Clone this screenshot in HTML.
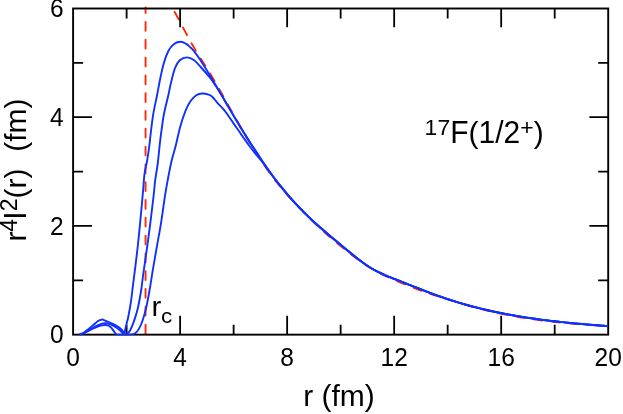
<!DOCTYPE html>
<html><head><meta charset="utf-8"><title>17F(1/2+)</title>
<style>html,body{margin:0;padding:0;background:#fff;}svg{display:block;}text{font-family:"Liberation Sans",sans-serif;fill:#000;}</style></head><body>
<svg width="623" height="414" viewBox="0 0 623 414">
<rect width="623" height="414" fill="#fff"/>
<defs><clipPath id="cp"><rect x="73.10" y="6.70" width="534.20" height="328.85"/></clipPath></defs>
<g fill="none" stroke="#ff2a05" stroke-width="1.90" clip-path="url(#cp)">
<path d="M145.55 4.2 V335.65" stroke-dasharray="8.8 9" stroke-linecap="round"/>
<path d="M172.09 7.54 L175.09 12.70 L178.09 18.17 L181.09 23.83 L184.09 29.57 L187.09 35.27 L190.09 40.81 L193.09 46.08 L196.09 51.11 L199.09 55.97 L202.09 60.72 L205.09 65.45 L208.09 70.23 L211.09 75.14 L214.09 80.19 L217.09 85.37 L220.09 90.65 L223.09 95.99 L226.09 101.38 L229.09 106.78 L232.09 112.16 L235.09 117.51 L238.09 122.79 L241.09 127.97 L244.09 133.08 L247.09 138.17 L250.09 143.17 L253.09 148.08 L256.09 152.88 L259.09 157.56 L262.09 162.10 L265.09 166.52 L268.09 170.79 L271.09 174.93 L274.09 178.92 L277.09 182.78 L280.09 186.49 L283.09 190.08 L286.09 193.55 L289.09 196.90 L292.09 200.14 L295.09 203.30 L298.09 206.38 L301.09 209.45 L304.09 212.60 L307.09 215.69 L310.09 218.72 L313.09 221.69 L316.09 224.58 L319.09 227.41 L322.09 230.18 L325.09 232.88 L328.09 235.52 L331.09 238.11 L334.09 240.64 L337.09 243.14 L340.09 245.59 L343.09 248.01 L346.09 250.42 L349.09 252.80 L352.09 255.15 L355.09 257.44 L358.09 259.67 L361.09 261.81 L364.09 263.85 L367.09 265.79 L370.09 267.62 L373.09 269.46 L376.09 271.19 L379.09 272.81 L382.09 274.33 L385.09 275.77 L388.09 277.15 L391.09 278.47 L394.09 279.76 L397.09 281.03 L400.09 282.30 L403.09 283.55 L406.09 284.79 L409.09 286.00 L412.09 287.19 L415.09 288.36 L418.09 289.49 L421.09 290.60 L424.09 291.68 L427.09 292.73 L430.09 293.75 L433.09 294.75 L436.09 295.72 L439.09 296.66 L442.09 297.58 L445.09 298.49 L448.09 299.38 L451.09 300.26 L454.09 301.21 L457.09 302.17 L460.09 303.10 L463.09 304.02 L466.09 304.91 L469.09 305.78 L472.09 306.63 L475.09 307.45 L478.09 308.25 L481.09 309.04 L484.09 309.79 L487.09 310.53 L490.09 311.25 L493.09 311.94 L496.09 312.61 L499.09 313.27 L502.09 313.90 L505.09 314.51 L508.09 315.09 L511.09 315.66 L514.09 316.21 L517.09 316.74 L520.09 317.25 L523.09 317.74 L526.09 318.22 L529.09 318.67 L532.09 319.11 L535.09 319.53 L538.09 319.93 L541.09 320.32 L544.09 320.69 L547.09 321.05 L550.09 321.39 L553.09 321.72 L556.09 322.04 L559.09 322.34 L562.09 322.63 L565.09 322.91 L568.09 323.18 L571.09 323.44 L574.09 323.69 L577.09 323.93 L580.09 324.17 L583.09 324.39 L586.09 324.62 L589.09 324.83 L592.09 325.05 L595.09 325.26 L598.09 325.46 L601.09 325.67 L604.09 325.88 L605.52 325.98" stroke-dasharray="8.6 9.2" stroke-linecap="round" stroke-dashoffset="12.80"/>
</g>
<path d="M126.61 334.65 v-10.00 M126.61 8.50 v10.00 M180.12 334.65 v-18.80 M180.12 8.50 v18.80 M233.63 334.65 v-10.00 M233.63 8.50 v10.00 M287.14 334.65 v-18.80 M287.14 8.50 v18.80 M340.65 334.65 v-10.00 M340.65 8.50 v10.00 M394.16 334.65 v-18.80 M394.16 8.50 v18.80 M447.67 334.65 v-10.00 M447.67 8.50 v10.00 M501.18 334.65 v-18.80 M501.18 8.50 v18.80 M554.69 334.65 v-10.00 M554.69 8.50 v10.00 M73.10 280.29 h10.00 M608.20 280.29 h-10.00 M73.10 225.93 h18.80 M608.20 225.93 h-18.80 M73.10 171.57 h10.00 M608.20 171.57 h-10.00 M73.10 117.22 h18.80 M608.20 117.22 h-18.80 M73.10 62.86 h10.00 M608.20 62.86 h-10.00" fill="none" stroke="#000" stroke-width="1.80"/>
<rect x="73.10" y="8.50" width="535.10" height="326.15" fill="none" stroke="#000" stroke-width="1.90"/>
<g fill="none" stroke="#1030ff" stroke-width="1.90" stroke-linejoin="round" stroke-linecap="round" clip-path="url(#cp)">
<path d="M79.90 334.30 C80.58 334.00 82.65 333.30 84.00 332.50 C85.35 331.70 86.53 330.65 88.00 329.50 C89.47 328.35 91.18 326.97 92.80 325.60 C94.42 324.23 96.40 322.24 97.70 321.30 C99.00 320.36 99.84 320.25 100.60 319.95 C101.36 319.65 101.70 319.48 102.25 319.50 C102.80 319.52 102.74 319.62 103.90 320.10 C105.06 320.58 107.10 321.45 109.20 322.40 C111.30 323.35 114.48 324.65 116.50 325.80 C118.52 326.95 120.18 328.30 121.30 329.30 C122.42 330.30 122.70 331.08 123.20 331.80 C123.70 332.52 124.02 333.73 124.30 333.60 C124.58 333.47 124.65 332.10 124.90 331.00 C125.15 329.90 125.45 328.50 125.80 327.00 C126.15 325.50 126.62 323.53 127.00 322.00 C127.38 320.47 127.47 321.03 128.10 317.80 C128.73 314.57 130.08 307.23 130.80 302.60 C131.52 297.97 131.22 299.60 132.40 290.00 C133.58 280.40 136.18 260.83 137.90 245.00 C139.62 229.17 141.60 206.85 142.70 195.00 C143.80 183.15 143.78 179.52 144.50 173.90 C145.22 168.28 146.20 165.95 147.00 161.30 C147.80 156.65 148.67 150.77 149.30 146.00 C149.93 141.23 150.13 138.07 150.80 132.70 C151.47 127.33 152.25 120.08 153.30 113.80 C154.35 107.52 156.03 100.43 157.10 95.00 C158.17 89.57 158.60 86.45 159.70 81.20 C160.80 75.95 162.23 68.58 163.70 63.50 C165.17 58.42 166.77 53.97 168.50 50.70 C170.23 47.43 172.08 45.38 174.10 43.90 C176.12 42.42 178.58 41.80 180.60 41.80 C182.62 41.80 184.57 42.97 186.20 43.90 C187.83 44.83 189.07 46.17 190.40 47.40 C191.73 48.63 192.77 49.53 194.20 51.30 C195.63 53.07 197.37 55.62 199.00 58.05 C200.63 60.47 202.25 63.05 204.00 65.84 C205.75 68.62 207.67 71.74 209.50 74.75 C211.33 77.77 213.08 80.70 215.00 83.93 C216.92 87.16 219.00 90.72 221.00 94.14 C223.00 97.55 225.00 101.00 227.00 104.41 C229.00 107.83 231.00 111.25 233.00 114.63 C235.00 118.00 237.00 121.36 239.00 124.66 C241.00 127.96 243.00 131.23 245.00 134.44 C247.00 137.65 249.00 140.82 251.00 143.93 C253.00 147.04 254.50 149.31 257.00 153.12 C259.50 156.93 263.17 162.69 266.00 166.79 C268.83 170.89 271.33 174.19 274.00 177.71 C276.67 181.23 279.33 184.63 282.00 187.91 C284.67 191.19 287.33 194.35 290.00 197.40 C292.67 200.45 295.33 203.38 298.00 206.21 C300.67 209.03 303.33 211.73 306.00 214.35 C308.67 216.98 311.33 219.48 314.00 221.93 C316.67 224.39 319.33 226.75 322.00 229.08 C324.67 231.41 327.33 233.67 330.00 235.92 C332.67 238.17 335.33 240.37 338.00 242.59 C340.67 244.81 343.33 247.02 346.00 249.23 C348.67 251.44 351.33 253.70 354.00 255.84 C356.67 257.99 359.33 260.14 362.00 262.09 C364.67 264.04 367.33 265.91 370.00 267.56 C372.67 269.21 375.33 270.63 378.00 271.97 C380.67 273.30 383.33 274.44 386.00 275.57 C388.67 276.70 391.33 277.71 394.00 278.76 C396.67 279.82 399.33 280.85 402.00 281.90 C404.67 282.95 407.33 284.01 410.00 285.07 C412.67 286.12 415.33 287.18 418.00 288.22 C420.67 289.26 423.33 290.30 426.00 291.31 C428.67 292.33 431.33 293.34 434.00 294.32 C436.67 295.30 439.33 296.26 442.00 297.19 C444.67 298.12 447.33 299.02 450.00 299.89 C452.67 300.76 455.33 301.60 458.00 302.41 C460.67 303.22 463.33 304.00 466.00 304.75 C468.67 305.50 471.33 306.22 474.00 306.92 C476.67 307.61 479.33 308.28 482.00 308.93 C484.67 309.57 487.33 310.19 490.00 310.79 C492.67 311.38 495.33 311.95 498.00 312.50 C500.67 313.05 503.33 313.58 506.00 314.08 C508.67 314.59 511.33 315.07 514.00 315.54 C516.67 316.00 519.33 316.45 522.00 316.88 C524.67 317.31 527.33 317.71 530.00 318.11 C532.67 318.50 535.33 318.88 538.00 319.24 C540.67 319.60 543.33 319.94 546.00 320.28 C548.67 320.61 551.33 320.93 554.00 321.23 C556.67 321.54 559.33 321.83 562.00 322.11 C564.67 322.40 567.33 322.67 570.00 322.93 C572.67 323.19 575.33 323.44 578.00 323.69 C580.67 323.93 583.33 324.17 586.00 324.40 C588.67 324.63 591.33 324.85 594.00 325.07 C596.67 325.29 599.63 325.52 602.00 325.71 C604.37 325.89 607.17 326.11 608.20 326.19"/>
<path d="M79.90 334.40 C80.58 334.17 82.65 333.60 84.00 333.00 C85.35 332.40 86.53 331.63 88.00 330.80 C89.47 329.97 91.18 328.90 92.80 328.00 C94.42 327.10 96.17 326.13 97.70 325.40 C99.23 324.67 100.78 323.98 102.00 323.60 C103.22 323.22 104.20 323.15 105.00 323.10 C105.80 323.05 105.68 323.02 106.80 323.30 C107.92 323.58 110.08 324.07 111.70 324.80 C113.32 325.53 115.05 326.72 116.50 327.70 C117.95 328.68 119.32 329.77 120.40 330.70 C121.48 331.63 122.30 332.68 123.00 333.30 C123.70 333.92 123.93 334.28 124.60 334.40 C125.27 334.52 126.07 334.70 127.00 334.00 C127.93 333.30 129.05 332.30 130.20 330.20 C131.35 328.10 132.65 324.97 133.90 321.40 C135.15 317.83 136.48 314.03 137.70 308.80 C138.92 303.57 140.27 295.82 141.20 290.00 C142.13 284.18 142.28 281.27 143.30 273.90 C144.32 266.53 146.15 254.13 147.30 245.80 C148.45 237.47 149.13 232.37 150.20 223.90 C151.27 215.43 152.87 202.28 153.70 195.00 C154.53 187.72 154.53 185.40 155.20 180.20 C155.87 175.00 156.97 169.53 157.70 163.80 C158.43 158.07 159.02 150.98 159.60 145.80 C160.18 140.62 160.47 138.03 161.20 132.70 C161.93 127.37 162.80 120.08 164.00 113.80 C165.20 107.52 167.30 99.90 168.40 95.00 C169.50 90.10 169.52 88.85 170.60 84.40 C171.68 79.95 173.37 72.32 174.90 68.30 C176.43 64.28 177.78 62.12 179.80 60.30 C181.82 58.48 184.60 57.40 187.00 57.40 C189.40 57.40 191.70 58.45 194.20 60.30 C196.70 62.15 199.40 65.63 202.00 68.50 C204.60 71.37 207.63 74.78 209.80 77.50 C211.97 80.22 213.13 82.03 215.00 84.80 C216.87 87.57 219.00 90.87 221.00 94.14 C223.00 97.41 225.00 101.00 227.00 104.41 C229.00 107.83 231.00 111.25 233.00 114.63 C235.00 118.00 237.00 121.36 239.00 124.66 C241.00 127.96 243.00 131.23 245.00 134.44 C247.00 137.65 249.00 140.82 251.00 143.93 C253.00 147.04 254.50 149.31 257.00 153.12 C259.50 156.93 263.17 162.69 266.00 166.79 C268.83 170.89 271.33 174.19 274.00 177.71 C276.67 181.23 279.33 184.63 282.00 187.91 C284.67 191.19 287.33 194.35 290.00 197.40 C292.67 200.45 295.33 203.38 298.00 206.21 C300.67 209.03 303.33 211.73 306.00 214.35 C308.67 216.98 311.33 219.48 314.00 221.93 C316.67 224.39 319.33 226.75 322.00 229.08 C324.67 231.41 327.33 233.67 330.00 235.92 C332.67 238.17 335.33 240.37 338.00 242.59 C340.67 244.81 343.33 247.02 346.00 249.23 C348.67 251.44 351.33 253.70 354.00 255.84 C356.67 257.99 359.33 260.14 362.00 262.09 C364.67 264.04 367.33 265.91 370.00 267.56 C372.67 269.21 375.33 270.63 378.00 271.97 C380.67 273.30 383.33 274.44 386.00 275.57 C388.67 276.70 391.33 277.71 394.00 278.76 C396.67 279.82 399.33 280.85 402.00 281.90 C404.67 282.95 407.33 284.01 410.00 285.07 C412.67 286.12 415.33 287.18 418.00 288.22 C420.67 289.26 423.33 290.30 426.00 291.31 C428.67 292.33 431.33 293.34 434.00 294.32 C436.67 295.30 439.33 296.26 442.00 297.19 C444.67 298.12 447.33 299.02 450.00 299.89 C452.67 300.76 455.33 301.60 458.00 302.41 C460.67 303.22 463.33 304.00 466.00 304.75 C468.67 305.50 471.33 306.22 474.00 306.92 C476.67 307.61 479.33 308.28 482.00 308.93 C484.67 309.57 487.33 310.19 490.00 310.79 C492.67 311.38 495.33 311.95 498.00 312.50 C500.67 313.05 503.33 313.58 506.00 314.08 C508.67 314.59 511.33 315.07 514.00 315.54 C516.67 316.00 519.33 316.45 522.00 316.88 C524.67 317.31 527.33 317.71 530.00 318.11 C532.67 318.50 535.33 318.88 538.00 319.24 C540.67 319.60 543.33 319.94 546.00 320.28 C548.67 320.61 551.33 320.93 554.00 321.23 C556.67 321.54 559.33 321.83 562.00 322.11 C564.67 322.40 567.33 322.67 570.00 322.93 C572.67 323.19 575.33 323.44 578.00 323.69 C580.67 323.93 583.33 324.17 586.00 324.40 C588.67 324.63 591.33 324.85 594.00 325.07 C596.67 325.29 599.63 325.52 602.00 325.71 C604.37 325.89 607.17 326.11 608.20 326.19"/>
<path d="M80.50 334.40 C81.08 334.20 82.75 333.75 84.00 333.20 C85.25 332.65 86.53 331.87 88.00 331.10 C89.47 330.33 91.18 329.35 92.80 328.60 C94.42 327.85 96.17 327.13 97.70 326.60 C99.23 326.07 100.70 325.67 102.00 325.40 C103.30 325.13 104.30 324.90 105.50 325.00 C106.70 325.10 108.17 325.45 109.20 326.00 C110.23 326.55 110.88 327.38 111.70 328.30 C112.52 329.22 113.35 330.52 114.10 331.50 C114.85 332.48 115.55 333.68 116.20 334.20 C116.85 334.72 116.70 334.53 118.00 334.60 C119.30 334.67 121.77 334.63 124.00 334.60 C126.23 334.57 129.53 334.62 131.40 334.40 C133.27 334.18 133.95 334.22 135.20 333.30 C136.45 332.38 137.65 331.08 138.90 328.90 C140.15 326.72 141.43 323.97 142.70 320.20 C143.97 316.43 145.35 311.33 146.50 306.30 C147.65 301.27 148.55 296.03 149.60 290.00 C150.65 283.97 151.57 277.47 152.80 270.10 C154.03 262.73 155.65 253.50 157.00 245.80 C158.35 238.10 159.57 232.23 160.90 223.90 C162.23 215.57 163.87 203.08 165.00 195.80 C166.13 188.52 166.62 185.95 167.70 180.20 C168.78 174.45 170.13 167.17 171.50 161.30 C172.87 155.43 174.43 150.82 175.90 145.00 C177.37 139.18 178.73 132.02 180.30 126.40 C181.87 120.78 183.62 115.48 185.30 111.30 C186.98 107.12 188.57 103.98 190.40 101.30 C192.23 98.62 194.32 96.50 196.30 95.20 C198.28 93.90 200.25 93.60 202.30 93.50 C204.35 93.40 206.93 94.05 208.60 94.60 C210.27 95.15 210.83 95.43 212.30 96.80 C213.77 98.17 215.52 100.70 217.40 102.80 C219.28 104.90 221.72 107.17 223.60 109.40 C225.48 111.63 227.02 113.83 228.70 116.20 C230.38 118.57 232.03 121.17 233.70 123.60 C235.37 126.03 237.03 128.40 238.70 130.80 C240.37 133.20 241.88 135.43 243.70 138.00 C245.52 140.57 247.55 143.47 249.60 146.20 C251.65 148.93 253.60 151.44 256.00 154.40 C258.40 157.36 261.33 160.50 264.00 163.95 C266.67 167.39 269.33 171.47 272.00 175.05 C274.67 178.63 277.33 182.08 280.00 185.43 C282.67 188.77 285.33 191.99 288.00 195.09 C290.67 198.20 293.33 201.19 296.00 204.07 C298.67 206.95 301.33 209.71 304.00 212.38 C306.67 215.05 309.33 217.59 312.00 220.08 C314.67 222.58 317.33 224.97 320.00 227.32 C322.67 229.68 325.33 231.96 328.00 234.23 C330.67 236.50 333.33 238.71 336.00 240.93 C338.67 243.16 341.33 245.35 344.00 247.57 C346.67 249.78 349.33 252.04 352.00 254.21 C354.67 256.38 357.33 258.57 360.00 260.58 C362.67 262.60 365.33 264.56 368.00 266.29 C370.67 268.01 373.33 269.55 376.00 270.96 C378.67 272.36 381.33 273.55 384.00 274.72 C386.67 275.90 389.33 276.92 392.00 277.98 C394.67 279.05 397.33 280.06 400.00 281.11 C402.67 282.16 405.33 283.22 408.00 284.27 C410.67 285.33 413.33 286.39 416.00 287.43 C418.67 288.48 421.33 289.52 424.00 290.55 C426.67 291.57 429.33 292.59 432.00 293.58 C434.67 294.57 437.33 295.55 440.00 296.49 C442.67 297.43 445.33 298.35 448.00 299.23 C450.67 300.12 453.33 300.97 456.00 301.80 C458.67 302.62 461.33 303.41 464.00 304.18 C466.67 304.94 469.33 305.68 472.00 306.39 C474.67 307.10 477.33 307.78 480.00 308.44 C482.67 309.10 485.33 309.73 488.00 310.33 C490.67 310.94 493.33 311.52 496.00 312.08 C498.67 312.65 501.33 313.18 504.00 313.70 C506.67 314.22 509.33 314.71 512.00 315.19 C514.67 315.66 517.33 316.12 520.00 316.55 C522.67 316.99 525.33 317.41 528.00 317.81 C530.67 318.21 533.33 318.59 536.00 318.96 C538.67 319.33 541.33 319.68 544.00 320.02 C546.67 320.36 549.33 320.69 552.00 321.00 C554.67 321.31 557.33 321.61 560.00 321.90 C562.67 322.19 565.33 322.46 568.00 322.73 C570.67 323.00 573.33 323.25 576.00 323.50 C578.67 323.75 581.33 323.99 584.00 324.22 C586.67 324.46 589.33 324.68 592.00 324.90 C594.67 325.13 597.33 325.34 600.00 325.55 C602.67 325.76 606.63 326.07 608.00 326.17 C609.37 326.28 608.17 326.18 608.20 326.19"/>
</g>
<g style="opacity:0.999">
<text transform="translate(73.10 366.10) scale(1 1.040)" font-size="24.50" text-anchor="middle">0</text>
<text transform="translate(180.12 366.10) scale(1 1.040)" font-size="24.50" text-anchor="middle">4</text>
<text transform="translate(287.14 366.10) scale(1 1.040)" font-size="24.50" text-anchor="middle">8</text>
<text transform="translate(394.16 366.10) scale(1 1.040)" font-size="24.50" text-anchor="middle">12</text>
<text transform="translate(501.18 366.10) scale(1 1.040)" font-size="24.50" text-anchor="middle">16</text>
<text transform="translate(608.20 366.10) scale(1 1.040)" font-size="24.50" text-anchor="middle">20</text>
<text transform="translate(63.60 343.40) scale(1 1.040)" font-size="24.50" text-anchor="end">0</text>
<text transform="translate(63.60 234.68) scale(1 1.040)" font-size="24.50" text-anchor="end">2</text>
<text transform="translate(63.60 125.97) scale(1 1.040)" font-size="24.50" text-anchor="end">4</text>
<text transform="translate(63.60 17.25) scale(1 1.040)" font-size="24.50" text-anchor="end">6</text>
<text transform="translate(339.00 405.90)" font-size="30.00" text-anchor="middle">r (fm)</text>
<text transform="translate(26.10 241.50) rotate(-90)" font-size="30.00" text-anchor="start">r</text>
<text transform="translate(17.10 231.70) rotate(-90)" font-size="23.00" text-anchor="start">4</text>
<text transform="translate(26.10 219.70) rotate(-90) scale(1 1.030)" font-size="30.00" text-anchor="start">I</text>
<text transform="translate(17.10 211.20) rotate(-90)" font-size="23.00" text-anchor="start">2</text>
<text transform="translate(26.10 198.40) rotate(-90)" font-size="30.00" xml:space="preserve" style="white-space:pre">(r)  (fm)</text>
<text transform="translate(424.61 134.95) scale(1 0.980)" font-size="23.00" text-anchor="start">17</text>
<text transform="translate(450.20 143.45) scale(1 1.030)" font-size="30.00" text-anchor="start">F</text>
<text transform="translate(468.52 143.45)" font-size="30.00" text-anchor="start">(</text>
<text transform="translate(478.51 143.45) scale(1 1.030)" font-size="30.00" text-anchor="start">1/2</text>
<text transform="translate(520.23 134.95) scale(1 0.980)" font-size="23.00" text-anchor="start">+</text>
<text transform="translate(533.67 143.45)" font-size="30.00" text-anchor="start">)</text>
<text transform="translate(151.55 316.10) scale(1 0.915)" font-size="29.50" text-anchor="start">r</text>
<text transform="translate(161.10 322.70) scale(1 0.910)" font-size="22.50" text-anchor="start">c</text>
</g>
</svg></body></html>
